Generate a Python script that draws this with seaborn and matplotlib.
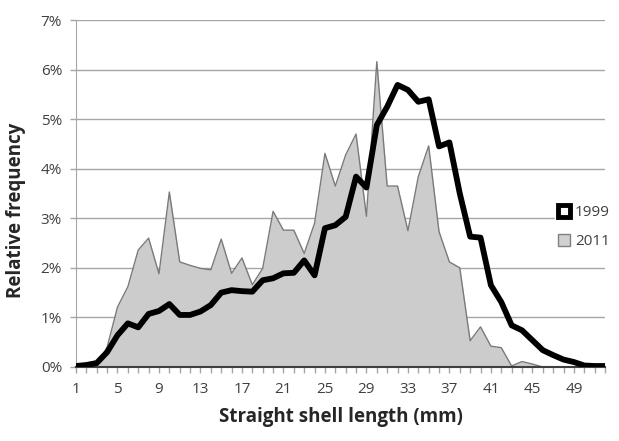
import numpy as np
import pandas as pd
import matplotlib
matplotlib.use("Agg")
import matplotlib.pyplot as plt
from matplotlib.patches import Patch
import seaborn as sns

# === Data (relative frequency in %, per mm size class) ===
length_mm = list(range(1, 53))
freq_1999 = [0.02, 0.04, 0.08, 0.30, 0.64, 0.88, 0.80, 1.07, 1.13, 1.27,
             1.05, 1.05, 1.12, 1.25, 1.50, 1.55, 1.53, 1.52, 1.75, 1.79,
             1.89, 1.90, 2.15, 1.85, 2.80, 2.86, 3.03, 3.84, 3.62, 4.88,
             5.25, 5.69, 5.59, 5.35, 5.40, 4.45, 4.53, 3.50, 2.63, 2.61,
             1.65, 1.31, 0.84, 0.74, 0.54, 0.34, 0.24, 0.15, 0.10, 0.03,
             0.02, 0.02]
freq_2011 = [0.00, 0.00, 0.02, 0.40, 1.21, 1.62, 2.36, 2.60, 1.88, 3.53,
             2.12, 2.05, 1.99, 1.96, 2.58, 1.89, 2.20, 1.66, 1.99, 3.14,
             2.76, 2.76, 2.29, 2.90, 4.31, 3.65, 4.28, 4.70, 3.04, 6.16,
             3.65, 3.65, 2.75, 3.84, 4.46, 2.73, 2.12, 2.00, 0.53, 0.81,
             0.42, 0.39, 0.02, 0.11, 0.06, 0.00, 0.00, 0.00, 0.00, 0.00,
             0.00, 0.00]
xtick_vals = list(range(1, 50, 4))
ytick_vals = list(range(0, 8))

df = pd.DataFrame({"length": length_mm, "1999": freq_1999, "2011": freq_2011})

# === Style ===
sns.set_style("white")
plt.rcParams["font.family"] = ["Open Sans", "DejaVu Sans"]
text_col = "#404040"
grid_col = "#a6a6a6"

fig = plt.figure(figsize=(6.19, 4.41), dpi=100)
ax = fig.add_axes([76 / 619, 1 - 367 / 441, (605 - 76) / 619, (367 - 20) / 441])

# gridlines
for v in ytick_vals[1:]:
    ax.axhline(v, color=grid_col, lw=1.0, zorder=0)

# 2011 area
ax.fill_between(df["length"], df["2011"], 0, color="#cccccc", lw=0, zorder=1)
sns.lineplot(data=df, x="length", y="2011", ax=ax, color="#7a7a7a", lw=1.0, zorder=2)

# 1999 line
sns.lineplot(data=df, x="length", y="1999", ax=ax, color="black", lw=4.2, zorder=3)

ax.set_xlim(1, 52)
ax.set_ylim(0, 7)

ax.set_xticks(xtick_vals)
ax.set_xticklabels([str(v) for v in xtick_vals])
ax.set_xticks(length_mm, minor=True)
ax.set_yticks(ytick_vals)
ax.set_yticklabels([f"{v}%" for v in ytick_vals])

ax.tick_params(axis="x", which="both", direction="out", length=4, width=1, color=grid_col,
               labelsize=11, labelcolor=text_col, pad=7, bottom=True)
ax.tick_params(axis="y", direction="out", length=4, width=1, color=grid_col,
               labelsize=11, labelcolor=text_col, pad=6, left=True)

for side in ["top", "right"]:
    ax.spines[side].set_visible(False)
ax.spines["left"].set_color(grid_col)
ax.spines["bottom"].set_color("#404040")
ax.spines["bottom"].set_linewidth(1.5)

ax.set_xlabel("Straight shell length (mm)", fontsize=13.5, fontweight="bold", color="#262626", labelpad=7)
ax.set_ylabel("Relative frequency", fontsize=13.5, fontweight="bold", color="#262626")
ax.yaxis.set_label_coords(-0.094, 0.45)

# legend
handles = [Patch(facecolor="white", edgecolor="black", linewidth=3.5, label="1999"),
           Patch(facecolor="#d0d0d0", edgecolor="#808080", linewidth=1, label="2011")]
leg = fig.legend(handles=handles, loc="center left", bbox_to_anchor=(555 / 619, 1 - 227 / 441),
                 frameon=True, fontsize=11, handlelength=0.8, handleheight=0.8,
                 handletextpad=0.3, labelspacing=0.9, borderpad=0.2, borderaxespad=0)
leg.get_frame().set_edgecolor("white")
leg.get_frame().set_facecolor("white")
leg.get_frame().set_alpha(1)
for t in leg.get_texts():
    t.set_color(text_col)

fig.savefig("out.png", dpi=100)
